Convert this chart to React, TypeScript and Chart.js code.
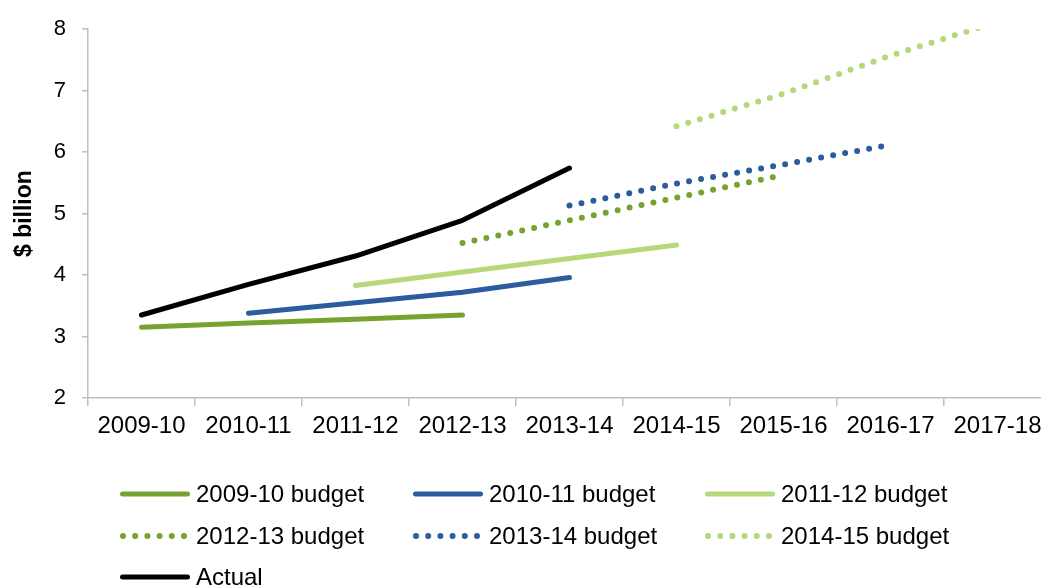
import React, { useEffect, useRef } from 'react';
import { Chart, registerables } from 'chart.js';

Chart.register(...registerables);

const categories = ['2009-10', '2010-11', '2011-12', '2012-13', '2013-14', '2014-15', '2015-16', '2016-17', '2017-18'];
const budget0910 = [3.15, 3.22, 3.28, 3.35, null, null, null, null, null];
const budget1011 = [null, 3.38, 3.55, 3.72, 3.96, null, null, null, null];
const budget1112 = [null, null, 3.83, 4.05, 4.27, 4.49, null, null, null];
const budget1213 = [null, null, null, 4.52, 4.89, 5.26, 5.63, null, null];
const budget1314 = [null, null, null, null, 5.13, 5.49, 5.8, 6.12, null];
const budget1415 = [null, null, null, null, null, 6.42, 6.95, 7.57, 8.12];
const actual = [3.35, 3.85, 4.31, 4.89, 5.74, null, null, null, null];
const yTicks = [2, 3, 4, 5, 6, 7, 8];
const yTitle = '$ billion';

const DARK_GREEN = '#78A22F';
const BLUE = '#2B5C9C';
const LIGHT_GREEN = '#B5D97A';
const BLACK = '#000000';
const AXIS = '#BFBFBF';
const FONT = "'Liberation Sans', Arial, sans-serif";

const DOTS = [0, 12.2];

const gridLegend = {
  id: 'gridLegend',
  afterDraw(chart: any) {
    const ctx = chart.ctx;
    const cols = [120, 413, 705];
    const rows = [494, 536, 577];
    const order = [0, 1, 2, 3, 4, 5, 6];
    ctx.save();
    order.forEach((di, i) => {
      const ds = chart.data.datasets[di];
      const x = cols[i % 3];
      const y = rows[Math.floor(i / 3)];
      ctx.beginPath();
      ctx.strokeStyle = ds.borderColor;
      ctx.lineCap = 'round';
      if (ds.borderDash && ds.borderDash.length) {
        ctx.lineWidth = 6;
        ctx.setLineDash(DOTS);
        ctx.moveTo(x + 3, y);
        ctx.lineTo(x + 66, y);
      } else {
        ctx.lineWidth = 5;
        ctx.setLineDash([]);
        ctx.moveTo(x + 2.5, y);
        ctx.lineTo(x + 67.5, y);
      }
      ctx.stroke();
      ctx.setLineDash([]);
      ctx.fillStyle = '#000';
      ctx.font = `24px ${FONT}`;
      ctx.textBaseline = 'middle';
      ctx.textAlign = 'left';
      ctx.fillText(ds.label, x + 76, y + 1);
    });
    ctx.restore();
  },
};

function mk(label: string, data: (number | null)[], color: string, dotted: boolean) {
  return {
    label,
    data,
    borderColor: color,
    backgroundColor: color,
    borderWidth: dotted ? 6 : 5,
    borderCapStyle: 'round',
    borderJoinStyle: 'round',
    borderDash: dotted ? DOTS : [],
    pointRadius: 0,
    pointHoverRadius: 0,
    tension: 0,
    fill: false,
    spanGaps: false,
  };
}

export default function App() {
  const ref = useRef<HTMLCanvasElement | null>(null);
  useEffect(() => {
    document.body.style.margin = '0';
    const canvas = ref.current;
    if (!canvas) return;
    const chart = new Chart(canvas, {
      type: 'line',
      data: {
        labels: categories,
        datasets: [
          mk('2009-10 budget', budget0910, DARK_GREEN, false),
          mk('2010-11 budget', budget1011, BLUE, false),
          mk('2011-12 budget', budget1112, LIGHT_GREEN, false),
          mk('2012-13 budget', budget1213, DARK_GREEN, true),
          mk('2013-14 budget', budget1314, BLUE, true),
          mk('2014-15 budget', budget1415, LIGHT_GREEN, true),
          mk('Actual', actual, BLACK, false),
        ] as any,
      },
      options: {
        responsive: false,
        animation: false,
        devicePixelRatio: 1,
        layout: { padding: { left: 0, right: 1, top: 24, bottom: 128 } },
        plugins: {
          legend: { display: false },
          tooltip: { enabled: false },
          title: { display: false },
        },
        scales: {
          x: {
            type: 'category',
            offset: true,
            grid: {
              display: true,
              offset: true,
              drawOnChartArea: false,
              drawTicks: true,
              tickLength: 8,
              color: AXIS,
              lineWidth: 1.5,
            },
            border: { display: true, color: AXIS, width: 1.5 },
            ticks: {
              color: '#000',
              font: { family: FONT, size: 24 },
              padding: 6,
              maxRotation: 0,
              autoSkip: false,
            },
            afterFit(scale: any) {
              scale.height = 60;
            },
          },
          y: {
            min: yTicks[0],
            max: yTicks[yTicks.length - 1],
            grid: {
              display: true,
              drawOnChartArea: false,
              drawTicks: true,
              tickLength: 6,
              color: AXIS,
              lineWidth: 1.5,
            },
            border: { display: true, color: AXIS, width: 1.5 },
            ticks: {
              stepSize: 1,
              color: '#000',
              font: { family: FONT, size: 22 },
              padding: 16,
            },
            title: {
              display: true,
              text: yTitle,
              color: '#000',
              font: { family: FONT, size: 23, weight: 'bold' },
              padding: { top: 11, bottom: 0 },
            },
            afterFit(scale: any) {
              scale.width = 88;
            },
          },
        },
      } as any,
      plugins: [gridLegend],
    });
    return () => chart.destroy();
  }, []);
  return (
    <div style={{ position: 'relative', width: 1041, height: 586, overflow: 'hidden', background: '#fff' }}>
      <canvas ref={ref} width={1052} height={586} style={{ display: 'block' }} />
    </div>
  );
}
